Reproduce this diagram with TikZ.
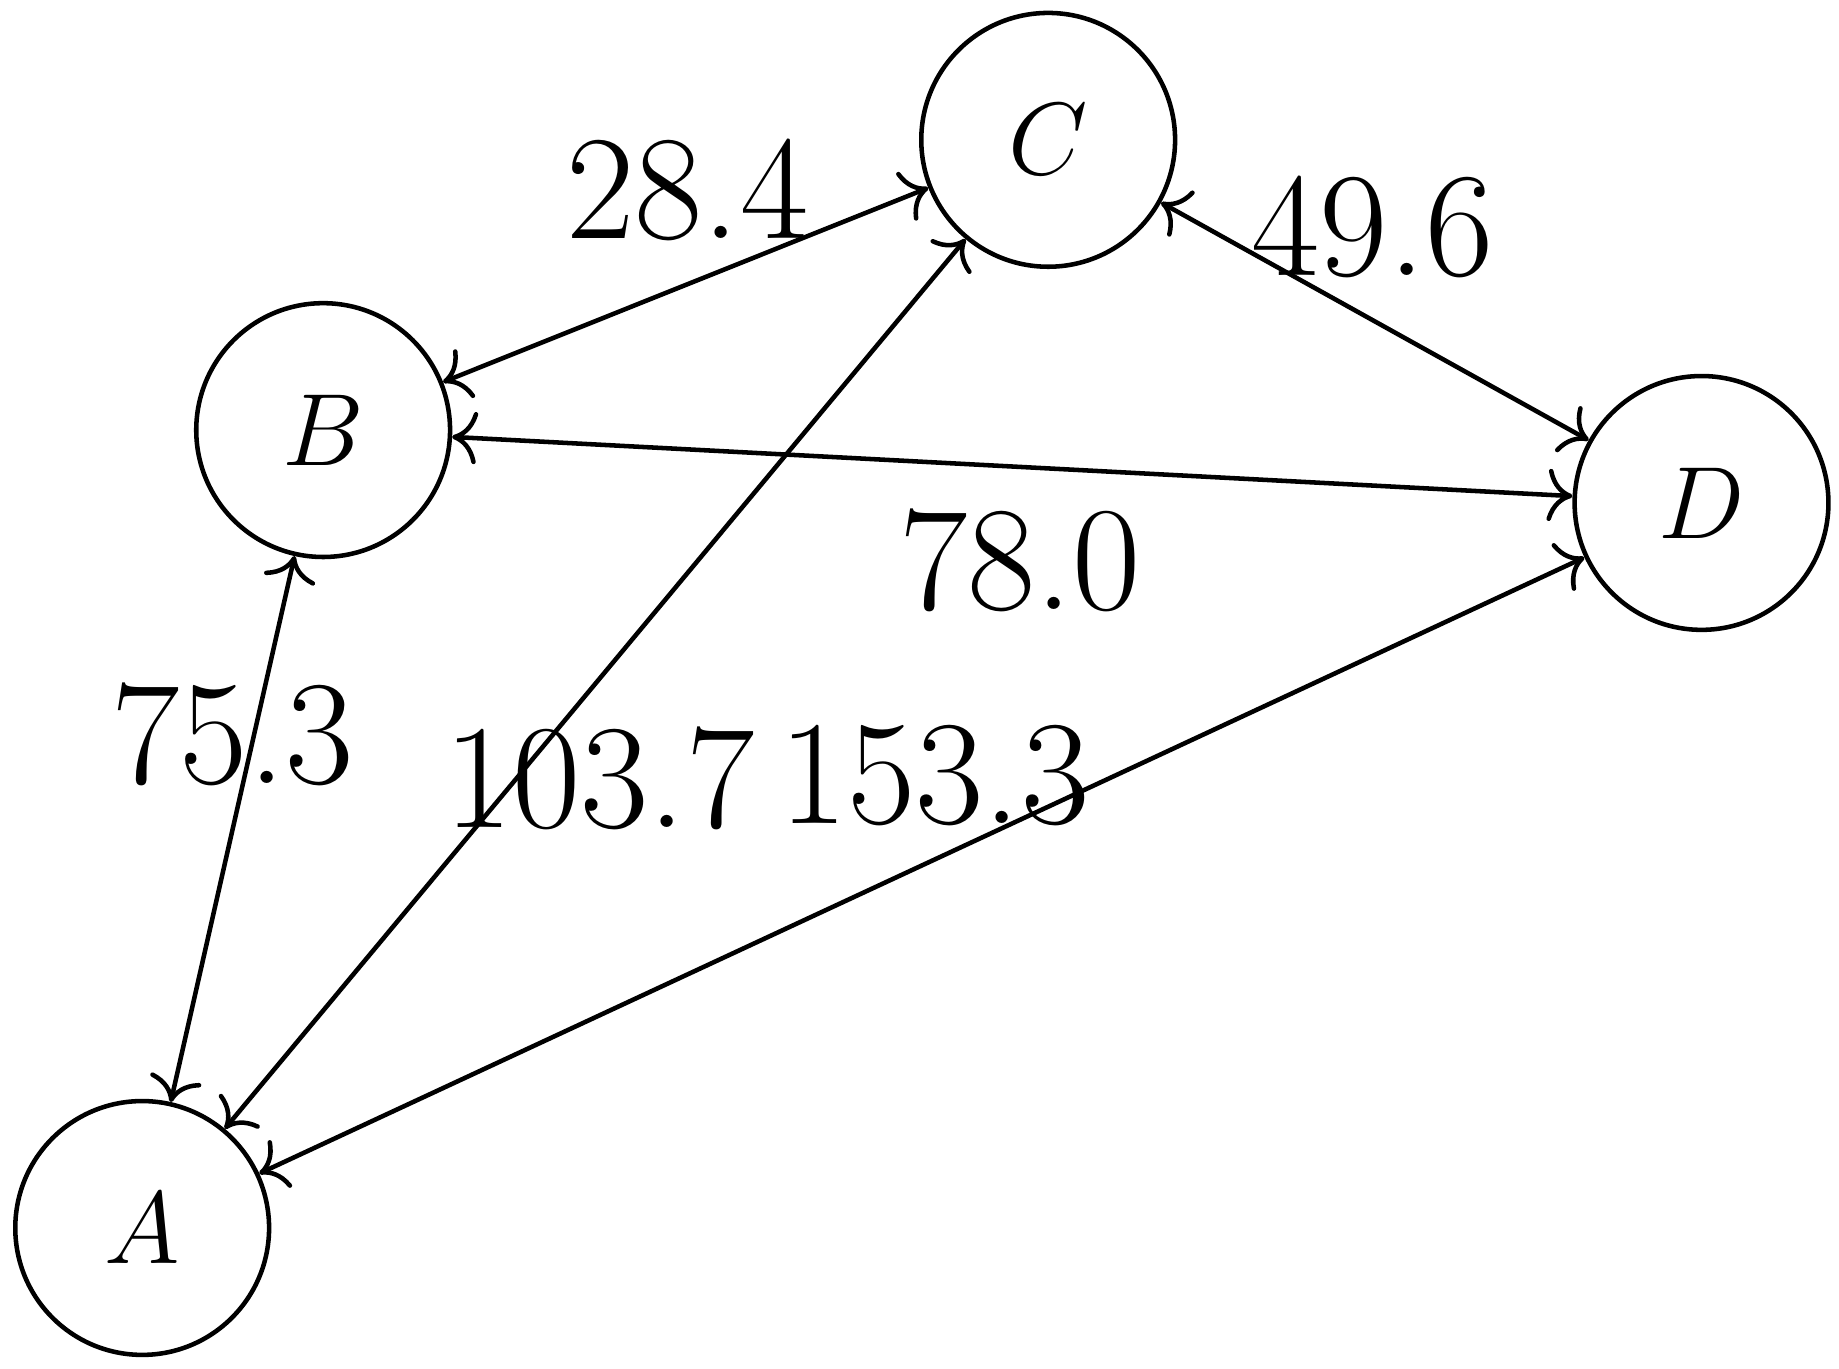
\documentclass[tikz,border=0pt]{standalone}
\usetikzlibrary{arrows.meta}
\begin{document}
\begin{tikzpicture}[
  v/.style={circle,draw,line width=1.1pt,minimum size=2.16cm,inner sep=0pt,font=\fontsize{37}{44}\selectfont},
  e/.style={{To[scale=1.5]}-{To[scale=1.5]},line width=1.1pt},
  lab/.style={font=\fontsize{36}{42}\selectfont,inner sep=0pt}]
\useasboundingbox (0,0) rectangle (15.65,11.65);
\node[v] (A) at (1.21,1.20) {$A$};
\node[v] (B) at (2.75,7.99) {$B$};
\node[v] (C) at (8.92,10.46) {$C$};
\node[v] (D) at (14.48,7.37) {$D$};
\draw[e] (A) -- (B);
\draw[e] (A) -- (C);
\draw[e] (A) -- (D);
\draw[e] (B) -- (C);
\draw[e] (B) -- (D);
\draw[e] (C) -- (D);
\node[lab] (l1) at (5.85,10.03) {28.4};
\node[lab] (l2) at (11.68,9.72) {49.6};
\node[lab] (l3) at (8.68,6.88) {78.0};
\node[lab] (l4) at (1.98,5.40) {75.3};
\node[lab] (l5) at (5.10,5.03) {103.7};
\node[lab] (l6) at (7.95,5.05) {153.3};
\end{tikzpicture}
\end{document}
